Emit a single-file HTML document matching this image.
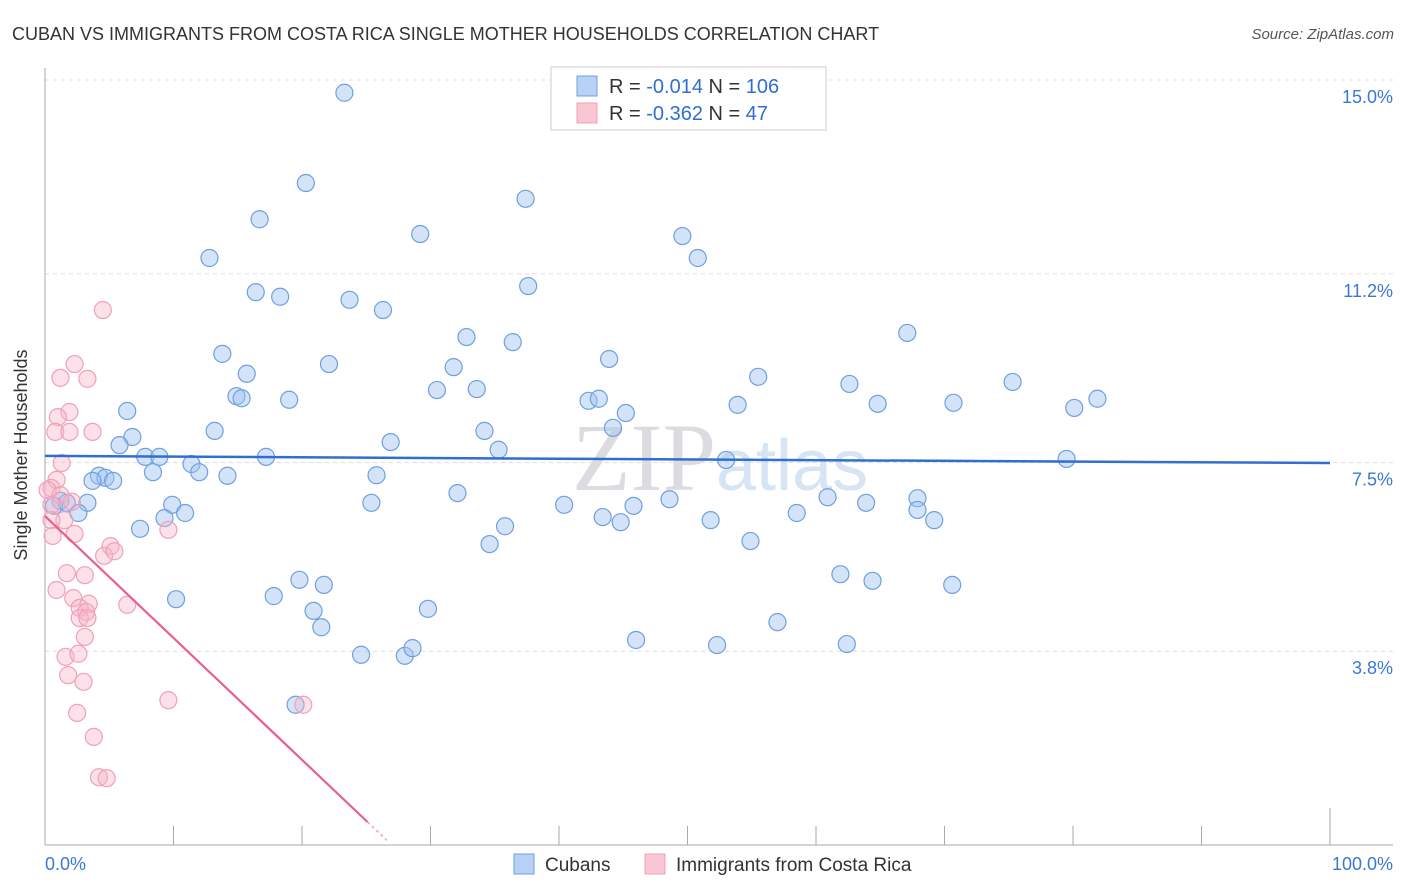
<!DOCTYPE html>
<html><head><meta charset="utf-8">
<style>
body{margin:0;background:#fff;font-family:"Liberation Sans",sans-serif;}
svg{display:block}
</style></head>
<body>
<svg id="chart" width="1406" height="892" xmlns="http://www.w3.org/2000/svg">
<text x="12" y="40" font-size="18" fill="#333">CUBAN VS IMMIGRANTS FROM COSTA RICA SINGLE MOTHER HOUSEHOLDS CORRELATION CHART</text>
<text x="1394" y="39" font-size="15" fill="#555" font-style="italic" text-anchor="end">Source: ZipAtlas.com</text>
<text x="720" y="490" font-size="96" fill="#e6e6ea" text-anchor="middle" font-family="Liberation Serif,serif"><tspan fill="#dcdce0">ZIP</tspan><tspan fill="#d6e4f4" font-family="Liberation Sans,sans-serif" font-size="72">atlas</tspan></text>
<g id="grid"></g>
<g id="axes"></g>
<g id="pts"></g>
<g id="trend"></g>
<text x="27" y="455" font-size="18" fill="#333" text-anchor="middle" transform="rotate(-90 27 455)">Single Mother Households</text>
<g>
<rect x="551" y="67" width="275" height="63" fill="#fff" stroke="#ccc"/>
<rect x="577" y="76" width="20" height="20" fill="#b8d2f4" stroke="#6f9fe0"/>
<rect x="577" y="103" width="20" height="20" fill="#f9c6d4" stroke="#f0a0b8"/>
<text x="609" y="93" font-size="20" fill="#333">R = <tspan fill="#2f6fd0">-0.014</tspan>   N = <tspan fill="#2f6fd0">106</tspan></text>
<text x="609" y="120" font-size="20" fill="#333">R = <tspan fill="#2f6fd0">-0.362</tspan>   N = <tspan fill="#2f6fd0">  47</tspan></text>
</g>
<g>
<rect x="514" y="854" width="20" height="20" fill="#b8d2f4" stroke="#6f9fe0"/>
<text x="545" y="871" font-size="19" fill="#333">Cubans</text>
<rect x="645" y="854" width="20" height="20" fill="#f9c6d4" stroke="#f0a0b8"/>
<text x="676" y="871" font-size="19" fill="#333">Immigrants from Costa Rica</text>
</g>
</svg>
<script>
const yTicks=[15.0,11.2,7.5,3.8];
const yTickLabels=["15.0%","11.2%","7.5%","3.8%"];
const xTickLabels=["0.0%","100.0%"];
const cubanX=[23.3,20.3,16.7,37.4,29.2,49.6,12.8,50.8,16.4,18.3,23.7,37.6,26.3,67.1,32.8,13.8,36.4,22.1,43.9,31.8,15.7,55.5,62.6,75.3,30.5,33.6,14.9,15.3,19.0,42.3,43.1,53.9,64.8,70.7,81.9,80.1,6.4,45.2,13.2,34.2,44.2,6.8,26.9,5.8,7.8,8.9,17.2,35.3,53.0,79.5,11.4,8.4,12.0,14.2,25.8,4.2,4.7,3.7,5.3,32.1,48.6,60.9,67.9,9.9,1.2,0.7,1.7,3.3,25.4,40.4,45.8,63.9,2.6,10.9,9.3,67.9,43.4,44.8,51.8,58.5,69.2,35.8,7.4,54.9,34.6,61.9,19.8,64.4,70.6,21.7,17.8,10.2,20.9,29.8,21.5,57.0,46.0,62.4,24.6,28.0,28.6,52.3,19.5];
const cubanY=[14.75,12.98,12.27,12.67,11.98,11.94,11.51,11.51,10.84,10.75,10.69,10.96,10.49,10.04,9.96,9.63,9.86,9.43,9.53,9.37,9.24,9.18,9.04,9.08,8.92,8.94,8.80,8.76,8.73,8.71,8.75,8.63,8.65,8.67,8.75,8.57,8.51,8.47,8.12,8.12,8.18,8.00,7.90,7.84,7.61,7.61,7.61,7.75,7.55,7.57,7.47,7.31,7.31,7.24,7.25,7.24,7.20,7.14,7.14,6.90,6.78,6.82,6.80,6.67,6.75,6.65,6.71,6.71,6.71,6.67,6.65,6.71,6.51,6.51,6.41,6.57,6.43,6.33,6.37,6.51,6.37,6.25,6.20,5.96,5.90,5.31,5.20,5.18,5.10,5.10,4.88,4.82,4.59,4.63,4.27,4.37,4.02,3.94,3.73,3.71,3.86,3.92,2.75];
const costaX=[4.5,2.3,1.2,3.3,1.9,1.0,0.8,3.7,1.9,1.3,0.9,0.5,0.2,1.2,2.1,0.5,1.5,0.5,0.6,2.3,5.1,4.6,5.4,9.6,1.7,3.1,0.9,2.2,6.4,3.4,2.7,3.2,2.7,3.3,3.1,1.6,2.6,1.8,3.0,9.6,20.1,2.5,3.8,4.2,4.8];
const costaY=[10.49,9.43,9.16,9.14,8.49,8.39,8.10,8.10,8.10,7.49,7.16,7.00,6.96,6.86,6.73,6.67,6.37,6.37,6.06,6.10,5.86,5.67,5.76,6.18,5.33,5.29,5.00,4.84,4.71,4.73,4.65,4.57,4.45,4.45,4.08,3.69,3.75,3.33,3.20,2.84,2.75,2.59,2.12,1.33,1.31];
const cubanTrend=[7.63,7.49];
const costaTrend=[6.45,-0.239];

const NS="http://www.w3.org/2000/svg";
const X0=45,X1=1330,YTOP=80,YBOT=845;
const sx=p=>X0+p*(X1-X0)/100;
const sy=v=>YBOT-v*(YBOT-YTOP)/15;
function mk(tag,attrs,parent){const e=document.createElementNS(NS,tag);for(const k in attrs)e.setAttribute(k,attrs[k]);document.getElementById(parent).appendChild(e);return e;}

yTicks.forEach((t,i)=>{
 const g=mk('line',{x1:X0,x2:1393,y1:sy(t),y2:sy(t),stroke:'#ddd','stroke-dasharray':'4 4'},'grid');
 
 
 const l=mk('text',{x:1393,y:sy(t)+23,'font-size':18,fill:'#3a78d4','text-anchor':'end'},'grid');
 l.textContent=yTickLabels[i];
 
 
});
const ax=mk('line',{x1:X0,x2:X0,y1:68,y2:YBOT,stroke:'#aaa'},'axes');


const bx=mk('line',{x1:X0,x2:1393,y1:YBOT,y2:YBOT,stroke:'#aaa'},'axes');


for(let k=1;k<=10;k++){
 const t=mk('line',{x1:sx(k*10),x2:sx(k*10),y1:k==10?808:826,y2:YBOT,stroke:'#aaa'},'axes');
 
 
}
const xl0=mk('text',{x:45,y:870,'font-size':18,fill:'#3a78d4'},'axes');xl0.textContent=xTickLabels[0];


const xl1=mk('text',{x:1393,y:870,'font-size':18,fill:'#3a78d4','text-anchor':'end'},'axes');xl1.textContent=xTickLabels[1];



cubanX.forEach((x,i)=>{
 const c=mk('circle',{cx:sx(x),cy:sy(cubanY[i]),r:8.5,fill:'rgba(160,196,240,0.45)',stroke:'#6f9fe0','stroke-width':1.2},'pts');
 
 
});
costaX.forEach((x,i)=>{
 const c=mk('circle',{cx:sx(x),cy:sy(costaY[i]),r:8.5,fill:'rgba(248,180,200,0.4)',stroke:'#f0a0b8','stroke-width':1.2},'pts');
 
 
});
const bl=mk('line',{x1:sx(0),y1:sy(cubanTrend[0]),x2:sx(100),y2:sy(cubanTrend[1]),stroke:'#2f6fd0','stroke-width':2.5},'trend');


const pEnd=25.1,pDash=26.6;
const pl=mk('line',{x1:sx(0),y1:sy(costaTrend[0]),x2:sx(pEnd),y2:sy(costaTrend[0]+costaTrend[1]*pEnd),stroke:'#e8608a','stroke-width':2.2},'trend');


const pd=mk('line',{x1:sx(pEnd),y1:sy(costaTrend[0]+costaTrend[1]*pEnd),x2:sx(pDash),y2:sy(costaTrend[0]+costaTrend[1]*pDash),stroke:'#f0a0b8','stroke-width':1.5,'stroke-dasharray':'3 3'},'trend');


</script>
</body></html>
